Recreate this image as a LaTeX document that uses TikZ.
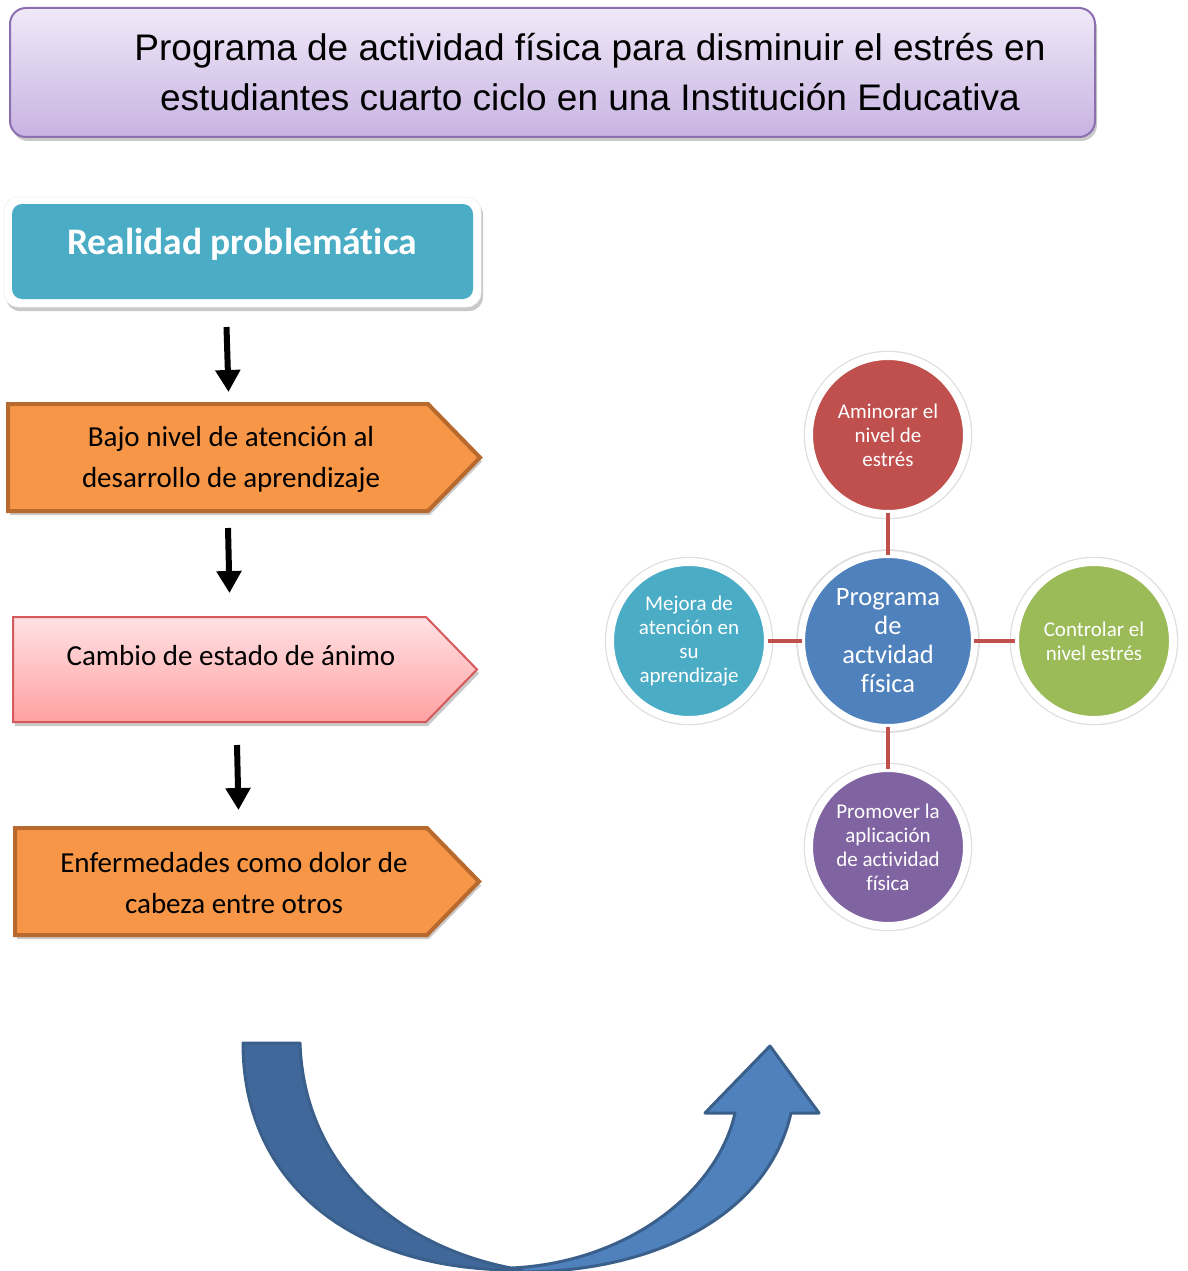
\documentclass[tikz,border=0pt]{standalone}
\usepackage{fontspec}
\setmainfont{Carlito}[Ligatures=NoCommon]
\newfontfamily\arialf{Liberation Sans}
\usetikzlibrary{shadows,arrows.meta}
\definecolor{titleTop}{HTML}{F0E9F8}
\definecolor{titleBot}{HTML}{C7B3E2}
\definecolor{titleBd}{HTML}{8B6FAE}
\definecolor{tealF}{HTML}{4BACC6}
\definecolor{orangeF}{HTML}{F79646}
\definecolor{orangeD}{HTML}{B8692E}
\definecolor{pinkTop}{HTML}{FFE1E4}
\definecolor{pinkBot}{HTML}{FFA1A1}
\definecolor{pinkD}{HTML}{D65A5C}
\definecolor{redC}{HTML}{C0504D}
\definecolor{blueC}{HTML}{4F81BD}
\definecolor{greenC}{HTML}{9BBB59}
\definecolor{purpleC}{HTML}{8064A2}
\definecolor{arrowDark}{HTML}{41689A}
\definecolor{arrowBd}{HTML}{3A5F8B}
\begin{document}
\begin{tikzpicture}[x=1pt,y=-1pt,
  softshadow/.style={drop shadow={shadow xshift=2pt,shadow yshift=-4pt,opacity=0.3,fill=black!70}},
  halo/.style={drop shadow={shadow xshift=1pt,shadow yshift=-2pt,shadow scale=1.035,opacity=0.22,fill=black!60}},
  titlebox/.style={rounded corners=16pt,top color=titleTop,bottom color=titleBot,draw=titleBd,line width=2pt,softshadow},
  pentbox/.style={fill=orangeF,draw=orangeD,line width=4pt,line join=miter,softshadow},
  pinkbox/.style={top color=pinkTop,bottom color=pinkBot,draw=pinkD,line width=2pt,line join=miter,softshadow},
  boxtext/.style={align=center,font=\fontsize{29}{41}\selectfont,text=black},
  downarrow/.style={line width=6pt,-{Triangle[width=24pt,length=22pt]}},
  ball/.style={circle,draw=white,line width=8pt,minimum size=158pt,inner sep=0pt,align=center,text=white,
     font=\fontsize{21}{24}\selectfont,halo,preaction={draw=black!13,line width=10.5pt}},
  link/.style={draw=redC,line width=4pt}
]
\useasboundingbox (0,0) rectangle (1187,1271);

% title
\node[titlebox,minimum width=1085pt,minimum height=129pt,inner sep=0pt] (titlebox) at (552.5,72.5) {};
\node[align=center,font=\arialf\fontsize{37}{50}\selectfont] (title) at (590,72)
  {Programa de actividad física para disminuir el estrés en\\estudiantes cuarto ciclo en una Institución Educativa};

% Realidad problematica
\node[rounded corners=14pt,fill=white,draw=black!8,line width=0.5pt,minimum width=477pt,minimum height=110pt,softshadow] (realout) at (242.5,252) {};
\node[rounded corners=10pt,fill=tealF,minimum width=461pt,minimum height=95pt,inner sep=0pt] (real) at (242.5,251.5) {};
\node[font=\bfseries\fontsize{37.5}{40}\selectfont,text=white] (realtxt) at (242,244) {Realidad problemática};

% boxes
\path[pentbox] (8,404) -- (428,404) -- (480,457.5) -- (428,511) -- (8,511) -- cycle;
\node[boxtext] (b1) at (231,459) {Bajo nivel de atención al\\desarrollo de aprendizaje};

\path[pinkbox] (13,617) -- (426,617) -- (477,669.5) -- (426,722) -- (13,722) -- cycle;
\node[boxtext] (b2) at (231,656) {Cambio de estado de ánimo};

\path[pentbox] (15,828) -- (427,828) -- (479,881.5) -- (427,935) -- (15,935) -- cycle;
\node[boxtext] (b3) at (234,883) {Enfermedades como dolor de\\cabeza entre otros};

% down arrows
\coordinate (a1s) at (226.5,327); \coordinate (a1e) at (228.5,392);
\coordinate (a2s) at (228,528);   \coordinate (a2e) at (229.5,593);
\coordinate (a3s) at (237,745);   \coordinate (a3e) at (238.5,810);
\draw[downarrow] (a1s) -- (a1e);
\draw[downarrow] (a2s) -- (a2e);
\draw[downarrow] (a3s) -- (a3e);

% circles
\node[ball,fill=redC] (top) at (888,435) {Aminorar el\\nivel de\\estrés};
\node[ball,fill=tealF] (left) at (689,641) {Mejora de\\atención en\\su\\aprendizaje};
\node[ball,fill=greenC] (right) at (1094,641) {Controlar el\\nivel estrés};
\node[ball,fill=purpleC] (bottom) at (888,847) {Promover la\\aplicación\\de actividad\\física};
\node[ball,fill=blueC,line width=7pt,minimum size=173pt,font=\fontsize{26.5}{29}\selectfont,
      preaction={draw=black!13,line width=9.5pt}] (center) at (888,641) {Programa\\de\\actvidad\\física};
\draw[link] ([yshift=5pt]top.south) -- ([yshift=-4pt]center.north);
\draw[link] ([xshift=-4pt]left.east) -- ([xshift=4pt]center.west);
\draw[link] ([xshift=4pt]right.west) -- ([xshift=-4pt]center.east);
\draw[link] ([yshift=-5pt]bottom.north) -- ([yshift=4pt]center.south);

% curved arrow
\path[fill=blueC,draw=arrowBd,line width=3pt,line join=round]
  (512,1268) .. controls (630,1262) and (718,1190) .. (735,1113)
  -- (705,1113) -- (770,1046) -- (819,1113) -- (791,1113)
  .. controls (768,1215) and (655,1272) .. (522,1272) -- cycle;
\path[fill=arrowDark,draw=arrowBd,line width=3pt,line join=round]
  (243,1043) -- (300,1043)
  .. controls (304,1168) and (400,1250) .. (522,1270)
  .. controls (355,1272) and (243,1185) .. (243,1043) -- cycle;
\end{tikzpicture}
\end{document}
